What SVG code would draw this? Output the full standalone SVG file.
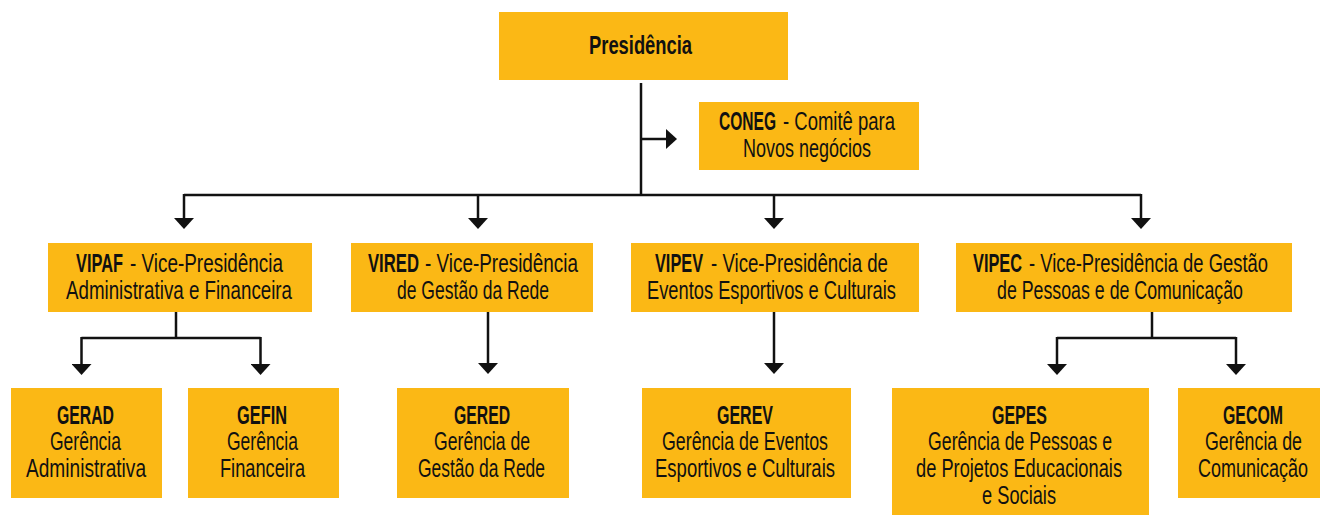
<svg xmlns="http://www.w3.org/2000/svg" width="1320" height="516" viewBox="0 0 1320 516">
<defs>
<style>
.box{fill:#FBB815;}
.t{font-family:"Liberation Sans Narrow","Liberation Sans",Arial,sans-serif;font-size:25px;fill:#111;text-anchor:middle;}
.s{text-anchor:start;}
.b{font-weight:bold;}
.c{fill:none;stroke:#111;stroke-width:2.5;}
</style>
<marker id="ah" markerUnits="userSpaceOnUse" markerWidth="12" markerHeight="20" refX="0" refY="10" orient="auto" viewBox="0 0 12 20">
<path d="M0,0 L11,10 L0,20 Z" fill="#111"/>
</marker>
</defs>
<rect width="1320" height="516" fill="#fff"/>
<g id="connectors">
<path class="c" d="M641,83 V195"/>
<path class="c" d="M641,139 H666" marker-end="url(#ah)"/>
<path class="c" d="M184,195 H1141"/>
<path class="c" d="M184,194 V218" marker-end="url(#ah)"/>
<path class="c" d="M478,194 V218" marker-end="url(#ah)"/>
<path class="c" d="M774,194 V218" marker-end="url(#ah)"/>
<path class="c" d="M1141,194 V218" marker-end="url(#ah)"/>
<path class="c" d="M176,312 V338"/>
<path class="c" d="M81.5,338 H260.5"/>
<path class="c" d="M81.5,337 V364" marker-end="url(#ah)"/>
<path class="c" d="M260.5,337 V364" marker-end="url(#ah)"/>
<path class="c" d="M488,312 V363" marker-end="url(#ah)"/>
<path class="c" d="M774,312 V363" marker-end="url(#ah)"/>
<path class="c" d="M1152,312 V338"/>
<path class="c" d="M1057,338 H1236"/>
<path class="c" d="M1057,337 V364" marker-end="url(#ah)"/>
<path class="c" d="M1236,337 V364" marker-end="url(#ah)"/>
</g>
<g id="presidencia">
<rect class="box" x="499" y="12" width="289" height="68"/>
<text class="t b" transform="translate(640.5,0) scale(0.74,1)" x="0" y="54" textLength="139.2" lengthAdjust="spacingAndGlyphs">Presidência</text>
</g>
<g id="coneg">
<rect class="box" x="699" y="102" width="220" height="68"/>
<text class="t s b" transform="translate(719,0) scale(0.74,1)" x="0" y="130" textLength="77" lengthAdjust="spacingAndGlyphs">CONEG</text>
<text class="t s" transform="translate(783,0) scale(0.74,1)" x="0" y="130" textLength="151.4" lengthAdjust="spacingAndGlyphs">- Comitê para</text>
<text class="t" transform="translate(807,0) scale(0.74,1)" x="0" y="157" textLength="173" lengthAdjust="spacingAndGlyphs">Novos negócios</text>
</g>
<g id="vipaf">
<rect class="box" x="48" y="243" width="264" height="69"/>
<text class="t s b" transform="translate(76,0) scale(0.74,1)" x="0" y="272" textLength="63.5" lengthAdjust="spacingAndGlyphs">VIPAF</text>
<text class="t s" transform="translate(130,0) scale(0.74,1)" x="0" y="272" textLength="206.8" lengthAdjust="spacingAndGlyphs">- Vice-Presidência</text>
<text class="t" transform="translate(179,0) scale(0.74,1)" x="0" y="299" textLength="305.4" lengthAdjust="spacingAndGlyphs">Administrativa e Financeira</text>
</g>
<g id="vired">
<rect class="box" x="351" y="243" width="242" height="69"/>
<text class="t s b" transform="translate(368,0) scale(0.74,1)" x="0" y="272" textLength="68.9" lengthAdjust="spacingAndGlyphs">VIRED</text>
<text class="t s" transform="translate(425,0) scale(0.74,1)" x="0" y="272" textLength="206.8" lengthAdjust="spacingAndGlyphs">- Vice-Presidência</text>
<text class="t" transform="translate(473,0) scale(0.74,1)" x="0" y="299" textLength="205.4" lengthAdjust="spacingAndGlyphs">de Gestão da Rede</text>
</g>
<g id="vipev">
<rect class="box" x="631" y="243" width="288" height="69"/>
<text class="t s b" transform="translate(655,0) scale(0.74,1)" x="0" y="272" textLength="64.9" lengthAdjust="spacingAndGlyphs">VIPEV</text>
<text class="t s" transform="translate(711,0) scale(0.74,1)" x="0" y="272" textLength="239.2" lengthAdjust="spacingAndGlyphs">- Vice-Presidência de</text>
<text class="t" transform="translate(771.5,0) scale(0.74,1)" x="0" y="299" textLength="336.5" lengthAdjust="spacingAndGlyphs">Eventos Esportivos e Culturais</text>
</g>
<g id="vipec">
<rect class="box" x="956" y="243" width="336" height="69"/>
<text class="t s b" transform="translate(973,0) scale(0.74,1)" x="0" y="272" textLength="66.2" lengthAdjust="spacingAndGlyphs">VIPEC</text>
<text class="t s" transform="translate(1029,0) scale(0.74,1)" x="0" y="272" textLength="323" lengthAdjust="spacingAndGlyphs">- Vice-Presidência de Gestão</text>
<text class="t" transform="translate(1120,0) scale(0.74,1)" x="0" y="299" textLength="332.4" lengthAdjust="spacingAndGlyphs">de Pessoas e de Comunicação</text>
</g>
<g id="gerad">
<rect class="box" x="11" y="388" width="151" height="110"/>
<text class="t b" transform="translate(85.5,0) scale(0.74,1)" x="0" y="424" textLength="77" lengthAdjust="spacingAndGlyphs">GERAD</text>
<text class="t" transform="translate(85.5,0) scale(0.74,1)" x="0" y="450" textLength="95.9" lengthAdjust="spacingAndGlyphs">Gerência</text>
<text class="t" transform="translate(86,0) scale(0.74,1)" x="0" y="477" textLength="162.2" lengthAdjust="spacingAndGlyphs">Administrativa</text>
</g>
<g id="gefin">
<rect class="box" x="188" y="388" width="151" height="110"/>
<text class="t b" transform="translate(262,0) scale(0.74,1)" x="0" y="424" textLength="67.6" lengthAdjust="spacingAndGlyphs">GEFIN</text>
<text class="t" transform="translate(262.5,0) scale(0.74,1)" x="0" y="450" textLength="95.9" lengthAdjust="spacingAndGlyphs">Gerência</text>
<text class="t" transform="translate(262.5,0) scale(0.74,1)" x="0" y="477" textLength="114.9" lengthAdjust="spacingAndGlyphs">Financeira</text>
</g>
<g id="gered">
<rect class="box" x="397" y="388" width="172" height="110"/>
<text class="t b" transform="translate(482,0) scale(0.74,1)" x="0" y="424" textLength="75.7" lengthAdjust="spacingAndGlyphs">GERED</text>
<text class="t" transform="translate(482,0) scale(0.74,1)" x="0" y="450" textLength="129.7" lengthAdjust="spacingAndGlyphs">Gerência de</text>
<text class="t" transform="translate(481.5,0) scale(0.74,1)" x="0" y="477" textLength="171.6" lengthAdjust="spacingAndGlyphs">Gestão da Rede</text>
</g>
<g id="gerev">
<rect class="box" x="642" y="388" width="209" height="110"/>
<text class="t b" transform="translate(745,0) scale(0.74,1)" x="0" y="424" textLength="75.7" lengthAdjust="spacingAndGlyphs">GEREV</text>
<text class="t" transform="translate(745,0) scale(0.74,1)" x="0" y="450" textLength="224.3" lengthAdjust="spacingAndGlyphs">Gerência de Eventos</text>
<text class="t" transform="translate(745,0) scale(0.74,1)" x="0" y="477" textLength="243.2" lengthAdjust="spacingAndGlyphs">Esportivos e Culturais</text>
</g>
<g id="gepes">
<rect class="box" x="892" y="388" width="257" height="127"/>
<text class="t b" transform="translate(1019.5,0) scale(0.74,1)" x="0" y="424" textLength="74.3" lengthAdjust="spacingAndGlyphs">GEPES</text>
<text class="t" transform="translate(1020,0) scale(0.74,1)" x="0" y="450" textLength="248.6" lengthAdjust="spacingAndGlyphs">Gerência de Pessoas e</text>
<text class="t" transform="translate(1019,0) scale(0.74,1)" x="0" y="477" textLength="278.4" lengthAdjust="spacingAndGlyphs">de Projetos Educacionais</text>
<text class="t" transform="translate(1019,0) scale(0.74,1)" x="0" y="504" textLength="100" lengthAdjust="spacingAndGlyphs">e Sociais</text>
</g>
<g id="gecom">
<rect class="box" x="1178" y="388" width="142" height="110"/>
<text class="t b" transform="translate(1253,0) scale(0.74,1)" x="0" y="424" textLength="81.1" lengthAdjust="spacingAndGlyphs">GECOM</text>
<text class="t" transform="translate(1253.5,0) scale(0.74,1)" x="0" y="450" textLength="131.1" lengthAdjust="spacingAndGlyphs">Gerência de</text>
<text class="t" transform="translate(1253,0) scale(0.74,1)" x="0" y="477" textLength="148.6" lengthAdjust="spacingAndGlyphs">Comunicação</text>
</g>
</svg>
